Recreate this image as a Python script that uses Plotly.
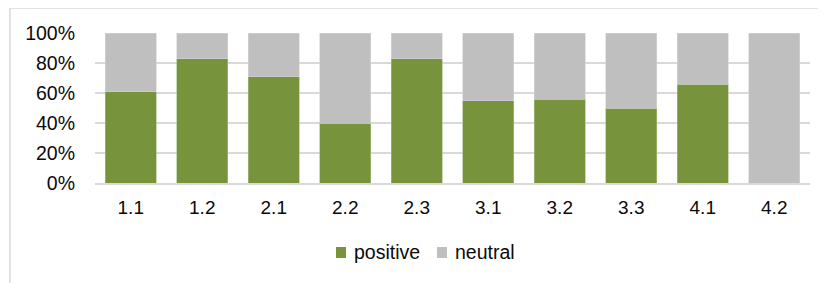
import plotly.graph_objects as go

categories = ["1.1", "1.2", "2.1", "2.2", "2.3", "3.1", "3.2", "3.3", "4.1", "4.2"]
positive = [61, 83, 71, 40, 83, 55, 56, 50, 66, 0]
neutral = [100 - p for p in positive]
y_ticks = [0, 20, 40, 60, 80, 100]
y_tick_labels = ["0%", "20%", "40%", "60%", "80%", "100%"]
series_names = ["positive", "neutral"]

GREEN = "#77933c"
GRAY = "#bfbfbf"
FONT = "Liberation Sans, Arial, sans-serif"
TXT = "#0a0a0a"

W, H = 818, 275
L, R, T, B = 87, 16, 25, 100
PW, PH = W - L - R, H - T - B

def px(x):
    return (x - L) / PW

def py(y):
    return (H - B - y) / PH

fig = go.Figure()
fig.add_trace(go.Bar(x=categories, y=positive, name=series_names[0], showlegend=False,
                     marker=dict(color=GREEN, line=dict(color="#a9bf86", width=0.6))))
fig.add_trace(go.Bar(x=categories, y=neutral, name=series_names[1], showlegend=False,
                     marker=dict(color=GRAY, line=dict(color="#d6d6d6", width=0.6))))

# manual legend (tight symbol-to-text gap like the original)
legend_items = [(series_names[0], GREEN, 328, 344), (series_names[1], GRAY, 429, 445)]
shapes = [dict(type="rect", xref="paper", yref="paper",
               x0=px(2), x1=px(830), y0=py(300), y1=py(0),
               line=dict(color="#d9d9d9", width=1.5), layer="below")]
annotations = []
for name, col, sx, tx in legend_items:
    shapes.append(dict(type="rect", xref="paper", yref="paper",
                       x0=px(sx), x1=px(sx + 10), y0=py(250), y1=py(239),
                       fillcolor=col, line=dict(width=0)))
    annotations.append(dict(text=name, xref="paper", yref="paper", x=px(tx), y=py(244),
                            xanchor="left", yanchor="middle", showarrow=False,
                            font=dict(family=FONT, size=19.5, color=TXT)))

fig.update_layout(
    barmode="stack",
    bargap=0.29,
    width=W, height=H,
    margin=dict(l=L, r=R, t=T, b=B),
    paper_bgcolor="white",
    plot_bgcolor="white",
    font=dict(family=FONT, size=19, color=TXT),
    showlegend=False,
    shapes=shapes,
    annotations=annotations,
)
fig.update_yaxes(range=[0, 100], tickvals=y_ticks, ticktext=y_tick_labels,
                 showgrid=True, gridcolor="#d9d9d9", gridwidth=1.5,
                 zeroline=False, showline=False, ticks="", ticklabelstandoff=19,
                 tickfont=dict(size=19.5))
fig.update_xaxes(showline=True, linecolor="#d9d9d9", linewidth=2, ticks="",
                 ticklabelstandoff=6, tickfont=dict(size=19))

fig.write_html("out.html")
